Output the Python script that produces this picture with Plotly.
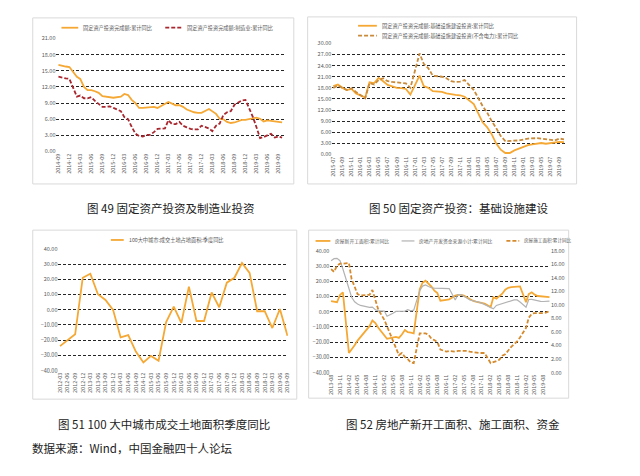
import plotly.graph_objects as go

# --- canvas ---
# the page body keeps its default 8px margin, so the figure is drawn 8px in from the window corner
PAGE_MARGIN = 8
W, H = 640 - 2 * PAGE_MARGIN, 476 - 2 * PAGE_MARGIN


def fx(p):
    return (p - PAGE_MARGIN) / W


def fy(p):
    return 1 - (p - PAGE_MARGIN) / H


# --- chart 49: FAI and manufacturing (cumulative yoy, %) ---
C1_MONTHS = [
    "2014-09", "2014-10", "2014-11", "2014-12",
    "2015-02", "2015-03", "2015-04", "2015-05", "2015-06", "2015-07", "2015-08", "2015-09", "2015-10", "2015-11", "2015-12",
    "2016-02", "2016-03", "2016-04", "2016-05", "2016-06", "2016-07", "2016-08", "2016-09", "2016-10", "2016-11", "2016-12",
    "2017-02", "2017-03", "2017-04", "2017-05", "2017-06", "2017-07", "2017-08", "2017-09", "2017-10", "2017-11", "2017-12",
    "2018-02", "2018-03", "2018-04", "2018-05", "2018-06", "2018-07", "2018-08", "2018-09", "2018-10", "2018-11", "2018-12",
    "2019-02", "2019-03", "2019-04", "2019-05", "2019-06", "2019-07", "2019-08", "2019-09", "2019-10",
]
C1_FAI = [
    16.1, 15.9, 15.8, 15.7,
    13.9, 13.5, 12.0, 11.4, 11.4, 11.2, 10.9, 10.3, 10.2, 10.2, 10.0,
    10.2, 10.7, 10.5, 9.6, 9.0, 8.1, 8.1, 8.2, 8.3, 8.3, 8.1,
    8.9, 9.2, 8.9, 8.6, 8.6, 8.3, 7.8, 7.5, 7.3, 7.2, 7.2,
    7.9, 7.5, 7.0, 6.1, 6.0, 5.5, 5.3, 5.4, 5.7, 5.9, 5.9,
    6.1, 6.3, 6.1, 5.6, 5.8, 5.7, 5.6, 5.5, 5.4,
]
C1_MFG = [
    13.9, 13.7, 13.6, 13.5,
    10.2, 10.4, 9.9, 9.9, 10.1, 9.4, 8.9, 8.3, 8.3, 8.4, 8.1,
    7.5, 6.4, 6.0, 4.6, 3.3, 2.9, 2.8, 3.1, 3.1, 3.6, 4.2,
    4.3, 5.8, 5.1, 5.1, 5.5, 4.8, 4.5, 4.2, 4.1, 4.1, 4.8,
    4.3, 3.8, 4.8, 5.2, 6.8, 7.3, 7.5, 8.7, 9.1, 9.5, 9.6,
    6.4, 4.6, 2.5, 2.7, 3.0, 3.3, 2.6, 2.8, 2.6,
]

# --- chart 50: infrastructure investment (cumulative yoy, %) ---
C2_MONTHS = [
    "2015-07", "2015-08", "2015-09", "2015-10", "2015-11", "2015-12",
    "2016-02", "2016-03", "2016-04", "2016-05", "2016-06", "2016-07", "2016-08", "2016-09", "2016-10", "2016-11", "2016-12",
    "2017-02", "2017-03", "2017-04", "2017-05", "2017-06", "2017-07", "2017-08", "2017-09", "2017-10", "2017-11", "2017-12",
    "2018-02", "2018-03", "2018-04", "2018-05", "2018-06", "2018-07", "2018-08", "2018-09", "2018-10", "2018-11", "2018-12",
    "2019-02", "2019-03", "2019-04", "2019-05", "2019-06", "2019-07", "2019-08", "2019-09", "2019-10",
]
C2_INFRA = [
    18.5, 18.9, 18.0, 17.4, 17.7, 16.5,
    15.4, 19.5, 19.3, 20.7, 19.8, 18.8, 18.4, 18.0, 17.9, 17.7, 16.2,
    21.3, 18.5, 18.0, 17.1, 17.1, 16.9, 16.5, 16.2, 16.1, 16.0, 15.6,
    13.6, 11.4, 8.7, 7.4, 5.5, 3.0, 1.3, 0.4, 0.4, 1.1, 1.6,
    2.5, 2.7, 3.0, 3.1, 2.9, 3.1, 3.2, 3.4, 3.3,
]
C2_INFRA_EX = [
    18.0, 18.6, 18.0, 17.4, 17.9, 16.9,
    15.2, 19.3, 18.9, 20.1, 20.6, 19.8, 19.6, 19.5, 19.4, 19.2, 18.0,
    27.3, 24.5, 23.3, 21.3, 21.2, 21.0, 20.6, 19.8, 19.6, 19.7, 20.1,
    17.4, 15.4, 13.1, 11.4, 9.0, 7.2, 5.0, 3.6, 3.7, 3.8, 3.8,
    4.3, 4.4, 4.4, 4.3, 4.1, 4.0, 3.8, 4.3, 4.1,
]

# --- chart 51: land transaction area in 100 cities (quarterly yoy, %) ---
C3_QUARTERS = [
    "2012-03", "2012-06", "2012-09", "2012-12",
    "2013-03", "2013-06", "2013-09", "2013-12",
    "2014-03", "2014-06", "2014-09", "2014-12",
    "2015-03", "2015-06", "2015-09", "2015-12",
    "2016-03", "2016-06", "2016-09", "2016-12",
    "2017-03", "2017-06", "2017-09", "2017-12",
    "2018-03", "2018-06", "2018-09", "2018-12",
    "2019-03", "2019-06", "2019-09",
]
C3_LAND = [
    -23.9, -20.0, -16.1, 21.0,
    23.6, 10.2, 6.4, -0.1,
    -18.2, -16.7, -27.5, -34.6,
    -30.3, -33.5, -8.1, 2.0,
    -8.7, 15.2, -7.4, -7.4,
    11.3, 1.6, 17.8, 21.0,
    30.7, 24.2, -1.0, -1.0,
    -12.0, 0.5, -17.1,
]

# --- chart 52: real estate starts, under construction, funding (cumulative yoy, %) ---
C4_MONTHS = [
    "2013-08", "2013-09", "2013-10", "2013-11", "2013-12",
    "2014-02", "2014-03", "2014-04", "2014-05", "2014-06", "2014-07", "2014-08", "2014-09", "2014-10", "2014-11", "2014-12",
    "2015-02", "2015-03", "2015-04", "2015-05", "2015-06", "2015-07", "2015-08", "2015-09", "2015-10", "2015-11", "2015-12",
    "2016-02", "2016-03", "2016-04", "2016-05", "2016-06", "2016-07", "2016-08", "2016-09", "2016-10", "2016-11", "2016-12",
    "2017-02", "2017-03", "2017-04", "2017-05", "2017-06", "2017-07", "2017-08", "2017-09", "2017-10", "2017-11", "2017-12",
    "2018-02", "2018-03", "2018-04", "2018-05", "2018-06", "2018-07", "2018-08", "2018-09", "2018-10", "2018-11", "2018-12",
    "2019-02", "2019-03", "2019-04", "2019-05", "2019-06", "2019-07", "2019-08", "2019-09", "2019-10",
]
C4_NEW_START = [
    6.9, 6.5, 6.2, 11.0, 12.7,
    -27.1, -25.0, -22.0, -19.0, -16.5, -14.4, -12.0, -9.5, -5.8, -7.5, -10.5,
    -16.0, -17.8, -17.3, -16.8, -16.6, -17.2, -15.0, -12.0, -13.5, -13.8, -14.2,
    14.8, 19.0, 20.3, 18.6, 16.5, 13.8, 12.2, 7.2, 7.3, 7.8, 8.1,
    10.5, 11.0, 11.0, 10.5, 9.2, 8.2, 7.2, 6.6, 6.2, 5.7, 5.3,
    3.0, 9.5, 8.6, 10.0, 11.8, 14.5, 15.7, 16.1, 16.4, 16.5, 16.6,
    6.2, 11.5, 12.7, 11.2, 10.3, 10.0, 9.8, 9.6, 9.5,
]
C4_FUNDS = [
    33.5, 34.8, 35.0, 33.5, 28.0,
    14.5, 9.5, 6.5, 5.0, 4.1, 3.7, 3.2, 2.8, 3.0, 1.3, 0.5,
    0.4, -3.0, -1.7, -1.0, 0.2, 0.4, 0.4, 0.4, 1.3, 0.6, 1.0,
    13.8, 16.8, 17.6, 16.5, 15.7, 15.5, 15.5, 15.5, 15.5, 15.5, 15.2,
    7.7, 11.2, 11.2, 10.3, 9.0, 7.7, 7.3, 6.8, 6.3, 5.6, 4.6,
    3.0, 1.9, 4.1, 4.7, 5.2, 6.0, 6.4, 7.5, 7.7, 7.7, 6.4,
    2.9, 8.0, 8.1, 7.5, 7.0, 6.8, 6.7, 6.8, 6.9,
]
C4_UNDER_CONSTR = [
    15.3, 14.9, 15.8, 16.1, 16.1,
    16.2, 13.8, 12.6, 11.6, 11.4, 11.4, 11.4, 11.5, 12.2, 10.6, 9.3,
    7.8, 6.8, 5.6, 4.5, 3.6, 2.6, 2.9, 2.3, 2.0, 1.5, 1.4,
    5.8, 5.8, 5.8, 5.6, 5.0, 4.8, 4.5, 3.4, 3.2, 3.1, 3.2,
    3.1, 3.2, 3.2, 3.3, 3.2, 3.1, 3.0, 3.0, 2.9, 2.9, 2.9,
    1.4, 1.5, 1.7, 1.9, 2.5, 2.7, 3.3, 3.8, 4.2, 4.6, 5.2,
    6.6, 8.1, 8.7, 8.8, 8.8, 8.7, 8.8, 8.9, 9.1,
]

ORANGE = "#F5A834"
DARK_RED = "#A8262E"
TAN = "#C98A3A"
TAN2 = "#D58A2E"
GRAY = "#B3B3B3"
FONT = "Noto Sans CJK SC"
TICK_FONT = dict(family=FONT, size=5.5, color="#595959")
GRID = dict(showgrid=True, gridcolor="#262626", gridwidth=1, griddash="3px,2px",
            zeroline=False, showline=False, ticks="", tickfont=TICK_FONT, tickformat=".2f")
XAX = dict(showgrid=False, zeroline=False, showline=False, ticks="", tickangle=-90,
           tickfont=TICK_FONT)

SERIES = [
    # (x, y, name, colour, dash, width, xaxis, yaxis)
    (C1_MONTHS, C1_FAI, "固定资产投资完成额:累计同比", ORANGE, "solid", 1.8, "x", "y"),
    (C1_MONTHS, C1_MFG, "固定资产投资完成额:制造业:累计同比", DARK_RED, "4px,2px", 1.8, "x", "y"),
    (C2_MONTHS, C2_INFRA, "固定资产投资完成额:基础设施建设投资:累计同比", ORANGE, "solid", 1.8, "x2", "y2"),
    (C2_MONTHS, C2_INFRA_EX, "固定资产投资完成额:基础设施建设投资(不含电力):累计同比", TAN, "4px,2px", 1.8, "x2", "y2"),
    (C3_QUARTERS, C3_LAND, "100大中城市:成交土地占地面积:季度同比", ORANGE, "solid", 1.8, "x3", "y3"),
    (C4_MONTHS, C4_NEW_START, "房屋新开工面积:累计同比", ORANGE, "solid", 1.8, "x4", "y4"),
    (C4_MONTHS, C4_FUNDS, "房地产开发资金来源小计:累计同比", GRAY, "solid", 1.2, "x4", "y4"),
    (C4_MONTHS, C4_UNDER_CONSTR, "房屋施工面积:累计同比", TAN2, "4px,2px", 1.8, "x4", "y5"),
]

fig = go.Figure()
for xs, ys, name, color, dash, lw, xa, ya in SERIES:
    fig.add_trace(go.Scatter(x=xs, y=ys, mode="lines", name=name, showlegend=False,
                             line=dict(color=color, width=lw, dash=dash), xaxis=xa, yaxis=ya))

# chart frames
frames = [(29, 14, 293, 183), (307, 13, 579, 183), (29, 230, 296, 402), (308, 230, 571, 401)]
shapes = [dict(type="rect", xref="paper", yref="paper", x0=fx(a), x1=fx(c), y0=fy(d), y1=fy(b),
               line=dict(color="#D9D9D9", width=1), fillcolor="rgba(0,0,0,0)", layer="below")
          for a, b, c, d in frames]

annotations = []

# small legends in the top of each frame: (series index, sample x0, sample x1, y, font size)
legend_spots = [
    (0, 58, 75, 24, 5.2), (1, 163, 180, 24, 5.2),
    (2, 358, 377, 22, 5.2), (3, 358, 377, 32, 5.2),
    (4, 108, 121, 240, 5.2),
    (5, 315, 330, 241, 4.8), (6, 402, 415, 241, 4.8), (7, 508, 521, 241, 4.6),
]
for idx, x0, x1, yy, fs in legend_spots:
    _, _, name, color, dash, lw, _, _ = SERIES[idx]
    shapes.append(dict(type="line", xref="paper", yref="paper", x0=fx(x0), x1=fx(x1), y0=fy(yy), y1=fy(yy),
                       line=dict(color=color, width=lw, dash=dash)))
    annotations.append(dict(text=name, x=fx(x1 + 3), y=fy(yy), xref="paper", yref="paper", showarrow=False,
                            xanchor="left", yanchor="middle",
                            font=dict(family=FONT, size=fs, color="#595959")))

cap_font = dict(family=FONT, size=11.5, color="#222222")
captions = [
    ("图 49 固定资产投资及制造业投资", 168, 207),
    ("图 50 固定资产投资：基础设施建设", 460, 207),
    ("图 51 100 大中城市成交土地面积季度同比", 162, 427),
    ("图 52 房地产新开工面积、施工面积、资金", 454, 427),
]
for text, cx, cy in captions:
    annotations.append(dict(text=text, x=fx(cx), y=fy(cy), xref="paper", yref="paper", showarrow=False,
                            font=cap_font, xanchor="center", yanchor="middle"))
annotations.append(dict(text="数据来源：Wind，中国金融四十人论坛", x=fx(26), y=fy(452), xref="paper", yref="paper",
                        showarrow=False, font=cap_font, xanchor="left", yanchor="middle"))

fig.update_layout(
    width=W, height=H, autosize=False,
    margin=dict(l=0, r=0, t=0, b=0),
    paper_bgcolor="white", plot_bgcolor="white",
    font=dict(family=FONT),
    showlegend=False,
    shapes=shapes, annotations=annotations,
    xaxis=dict(domain=[fx(53), fx(283)], anchor="y", type="date", range=["2014-08-16", "2019-10-16"],
               tick0="2014-09-01", dtick="M3", tickformat="%Y-%m", **XAX),
    yaxis=dict(domain=[fy(150), fy(35)], anchor="x", range=[0, 21], dtick=3, **GRID),
    xaxis2=dict(domain=[fx(332), fx(567)], anchor="y2", type="date", range=["2015-06-25", "2019-10-06"],
                tick0="2015-07-01", dtick="M2", tickformat="%Y-%m", **XAX),
    yaxis2=dict(domain=[fy(153), fy(40)], anchor="x2", range=[0, 30], dtick=3, **GRID),
    xaxis3=dict(domain=[fx(55), fx(287)], anchor="y3", type="category", range=[-0.2, 30.05], **XAX),
    yaxis3=dict(domain=[fy(373), fy(249)], anchor="x3", range=[-40, 40], dtick=10, **GRID),
    xaxis4=dict(domain=[fx(330), fx(552)], anchor="y4", type="date", range=["2013-07-25", "2019-10-05"],
                tick0="2013-08-01", dtick="M3", tickformat="%Y-%m", **XAX),
    yaxis4=dict(domain=[fy(375), fy(251)], anchor="x4", range=[-40, 40], dtick=10, **GRID),
    yaxis5=dict(overlaying="y4", anchor="x4", side="right", range=[0, 18], dtick=2, showgrid=False,
                zeroline=False, showline=False, ticks="", tickfont=TICK_FONT, tickformat=".2f"),
)

fig.write_html("out.html")
